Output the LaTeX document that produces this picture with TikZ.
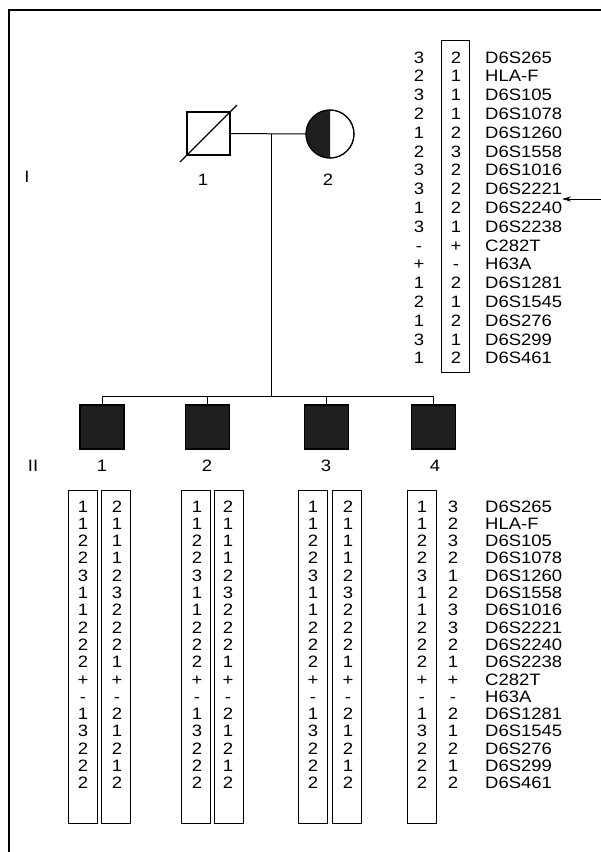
\documentclass[tikz,border=0pt]{standalone}
\usepackage{fontspec}
\setmainfont{Liberation Sans}[FakeStretch=1.12]
\usetikzlibrary{arrows.meta,calc}
\begin{document}
\begin{tikzpicture}[x=1pt,y=-1pt,
  sym/.style={draw, line width=1.1pt, minimum size=43pt, inner sep=0pt, outer sep=0pt},
  aff/.style={sym, fill=black!88, minimum size=44pt},
  txt/.style={font=\fontsize{16.5}{18}\selectfont, inner sep=0pt},
  allele/.style={txt, anchor=base},
  marker/.style={txt, anchor=base west},
  hapbox/.style={draw, line width=1pt, inner sep=0pt},
  link/.style={line width=1pt}]
\useasboundingbox (0,0) rectangle (601,852);
% frame
\draw[line width=1.8pt] (9,852) -- (9,10) -- (601,10);
% generation labels
\node[txt] (genI) at (27,177) {I};
\node[txt] (genII) at (33,466) {II};
% parents
\node[sym] (f) at (208.5,133.5) {};
\draw[line width=1.1pt] ($(f.south west)+(-7,7)$) -- ($(f.north east)+(7,-7)$);
\node[txt] (fl) at (203,180) {1};
\node[sym, circle, minimum size=48pt] (m) at (330,134) {};
\begin{scope}
  \clip ($(m.center)+(-26,-26)$) rectangle ($(m.center)+(0,26)$);
  \fill[black!88] (m.center) circle[radius=24pt];
\end{scope}
\node[sym, circle, minimum size=48pt] (mo) at (m.center) {};
\node[txt] (ml) at (328,180) {2};
\draw[link] (f.east) -- (m.west);
\coordinate (mid) at (271,133.5);
\coordinate (sib) at (271,396);
\draw[link] (mid) -- (sib);
% children
\node[aff] (c1) at (102,427) {};
\node[aff] (c2) at (207.5,427) {};
\node[aff] (c3) at (326.5,427) {};
\node[aff] (c4) at (433.5,427) {};
\draw[link] (c1.north |- sib) -- (c4.north |- sib);
\foreach \c in {c1,c2,c3,c4} \draw[link] (\c.north |- sib) -- (\c.north);
\node[txt] (l1) at (102,466) {1};
\node[txt] (l2) at (207,466) {2};
\node[txt] (l3) at (326,466) {3};
\node[txt] (l4) at (435,466) {4};
% top haplotypes
\node[hapbox, minimum width=28pt, minimum height=332pt] (tbox) at (455,206) {};
\foreach \v [count=\i from 0] in {3,2,3,2,1,2,3,3,1,3,-,+,1,2,1,3,1}
  \node[allele] (ta\i) at (419,{57+\i*18.8+6}) {\v};
\foreach \v [count=\i from 0] in {2,1,1,1,2,3,2,2,2,1,+,-,2,1,2,1,2}
  \node[allele] (tb\i) at (456,{57+\i*18.8+6}) {\v};
\foreach \v [count=\i from 0] in {D6S265,HLA-F,D6S105,D6S1078,D6S1260,D6S1558,D6S1016,D6S2221,D6S2240,D6S2238,C282T,H63A,D6S1281,D6S1545,D6S276,D6S299,D6S461}
  \node[marker] (tm\i) at (485,{57+\i*18.8+6}) {\v};
\coordinate (arrstart) at (601,199);
\coordinate (arrtip) at (562,199);
\draw[line width=0.8pt, -{Stealth[length=9pt,width=5pt]}] (arrstart) -- (arrtip);
% bottom haplotype boxes
\foreach \x/\n in {83/b1a,116/b1b,196/b2a,229/b2b,312.5/b3a,346.5/b3b,421.5/b4a}
  \node[hapbox, minimum width=29pt, minimum height=333pt] (\n) at (\x,656.5) {};
% bottom alleles
\foreach \x/\n in {83/a1,197/a2,313/a3,422/a4}
  \foreach \v [count=\i from 0] in {1,1,2,2,3,1,1,2,2,2,+,-,1,3,2,2,2}
    \node[allele] (\n r\i) at (\x,{506+\i*17.3+6}) {\v};
\foreach \x/\n in {117/p1,228/p2,348/p3}
  \foreach \v [count=\i from 0] in {2,1,1,1,2,3,2,2,2,1,+,-,2,1,2,1,2}
    \node[allele] (\n r\i) at (\x,{506+\i*17.3+6}) {\v};
\foreach \v [count=\i from 0] in {3,2,3,2,1,2,3,3,2,1,+,-,2,1,2,1,2}
  \node[allele] (p4r\i) at (453,{506+\i*17.3+6}) {\v};
\foreach \v [count=\i from 0] in {D6S265,HLA-F,D6S105,D6S1078,D6S1260,D6S1558,D6S1016,D6S2221,D6S2240,D6S2238,C282T,H63A,D6S1281,D6S1545,D6S276,D6S299,D6S461}
  \node[marker] (bm\i) at (485,{506+\i*17.3+6}) {\v};
\end{tikzpicture}
\end{document}
